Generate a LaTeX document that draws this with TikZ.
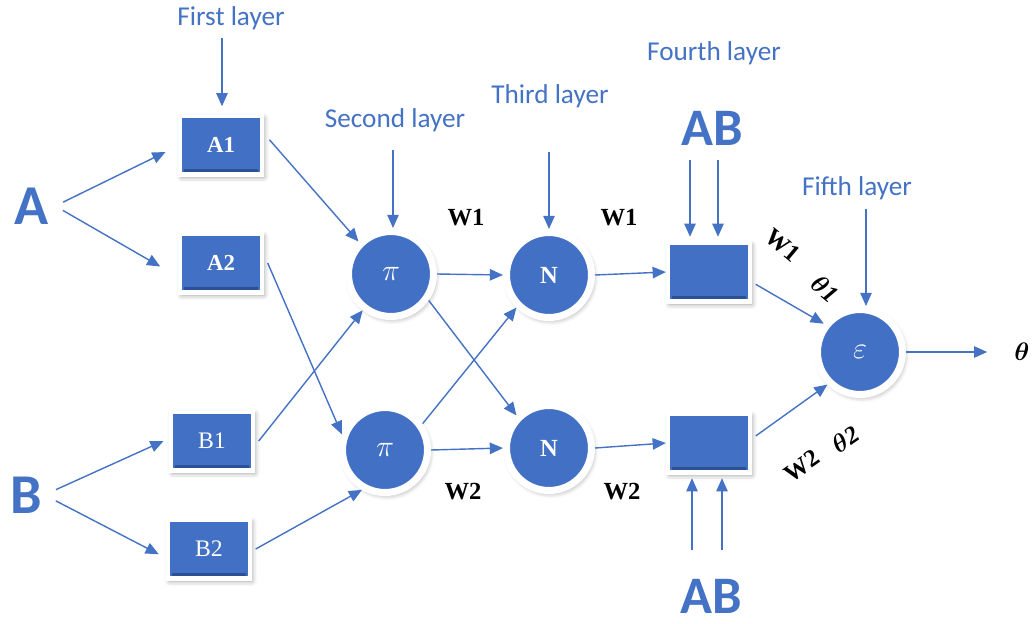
\documentclass[tikz,border=0pt]{standalone}
\usepackage{amsmath}
\usepackage{fontspec}
\setmainfont{Liberation Serif}
\newfontfamily\labelfont{Carlito}
\usetikzlibrary{arrows.meta,shadows.blur}
\definecolor{nodeblue}{RGB}{66,112,196}
\definecolor{edgeblue}{RGB}{44,80,150}
\definecolor{linkblue}{RGB}{68,114,196}
\begin{document}
\begin{tikzpicture}[x=0.02cm,y=-0.02cm,
  link/.style={draw=linkblue,line width=0.8pt,-{Triangle[length=7.5pt,width=6.5pt]}},
  shade/.style={blur shadow={shadow xshift=1pt,shadow yshift=-1.5pt,
    shadow blur radius=3pt,shadow opacity=40}},
  unit/.style={rectangle,fill=nodeblue,draw=white,line width=2.5pt,
    minimum width=1.64cm,minimum height=1.18cm,shade,text=white,
    font=\fontsize{13.5}{15}\selectfont,
    path picture={\draw[edgeblue,line width=1.4pt]
      ([shift={(2.2pt,2.2pt)}]path picture bounding box.south west) --
      ([shift={(-2.2pt,2.2pt)}]path picture bounding box.south east);}},
  neuron/.style={circle,fill=nodeblue,draw=white,line width=4pt,
    minimum size=1.7cm,shade,text=white,font=\fontsize{17}{19}\selectfont},
  layer/.style={font=\labelfont\fontsize{15.5}{17}\selectfont,text=linkblue},
  big/.style={font=\labelfont\bfseries\fontsize{32}{34}\selectfont,text=linkblue},
  wlab/.style={font=\bfseries\fontsize{14}{16}\selectfont},
  tlab/.style={font=\bfseries\itshape\fontsize{14}{16}\selectfont}]
\useasboundingbox (0,0) rectangle (1036,623);

% inputs
\node[big] (A) at (32,206) {A};
\node[big] (B) at (26,495) {B};

% first layer: membership units
\node[unit,font=\bfseries\fontsize{13}{15}\selectfont] (A1) at (221,145) {A1};
\node[unit,font=\bfseries\fontsize{13}{15}\selectfont] (A2) at (221,263) {A2};
\node[unit] (B1) at (212,441) {B1};
\node[unit] (B2) at (209,549) {B2};

% second and third layers
\node[neuron] (P1) at (391,274) {$\pi$};
\node[neuron] (P2) at (385,450) {$\pi$};
\node[neuron,font=\bfseries\fontsize{14}{16}\selectfont] (N1) at (549,275) {N};
\node[neuron,font=\bfseries\fontsize{14}{16}\selectfont] (N2) at (549,448) {N};

% fourth layer
\node[unit] (F1) at (709,272) {};
\node[unit] (F2) at (709,443) {};

% fifth layer and output
\node[neuron] (E) at (860,352) {$\varepsilon$};
\node[font=\fontsize{15}{17}\selectfont] (T) at (1022,352) {$\boldsymbol{\theta}$};

% layer captions
\node[layer] (L1) at (231,18) {First layer};
\node[layer] (L2) at (395,120) {Second layer};
\node[layer] (L3) at (550,96) {Third layer};
\node[layer] (L4) at (714,53) {Fourth layer};
\node[layer] (L5) at (857,188) {Fifth layer};
\node[big,font=\labelfont\bfseries\fontsize{30}{32}\selectfont] (AB1) at (712,128) {AB};
\node[big,font=\labelfont\bfseries\fontsize{30}{32}\selectfont] (AB2) at (711,596) {AB};

% weights
\node[wlab] (w11) at (466,218) {W1};
\node[wlab] (w12) at (619,218) {W1};
\node[wlab] (w21) at (463,492) {W2};
\node[wlab] (w22) at (622,492) {W2};
\node[wlab,inner sep=0pt] (w13) at (783,245) {\rotatebox{-40}{W1}};
\node[tlab,inner sep=0pt] (t1) at (825,289) {\rotatebox{-40}{$\boldsymbol{\theta}$1}};
\node[wlab,inner sep=0pt] (w23) at (802,466) {\rotatebox{35}{W2}};
\node[tlab,inner sep=0pt] (t2) at (845,439) {\rotatebox{35}{$\boldsymbol{\theta}$2}};

% caption arrows
\draw[link] (L1.south) ++(-9,2) coordinate (c1) -- ([yshift=4pt]A1.north -| c1);
\draw[link] (L2.south) ++(-2,12) coordinate (c2) -- (P1.north -| c2);
\draw[link] (L3.south) ++(-1,38) coordinate (c3) -- (N1.north -| c3);
\draw[link] (L5.south) ++(9,3) coordinate (c5) -- (E.north -| c5);

% AB feeding the fourth layer
\coordinate (u1) at (690,160);
\coordinate (u2) at (718,160);
\coordinate (d1) at (692,550);
\coordinate (d2) at (722,550);
\draw[link] (u1) -- ([yshift=2pt]F1.north -| u1);
\draw[link] (u2) -- ([yshift=2pt]F1.north -| u2);
\draw[link] (d1) -- ([yshift=-2pt]F2.south -| d1);
\draw[link] (d2) -- ([yshift=-2pt]F2.south -| d2);

% inputs to first layer
\draw[link,shorten <=5pt] (A.east) -- ([shift={(-7pt,-4pt)}]A1.west);
\draw[link,shorten <=5pt] (A.east) -- ([shift={(-10pt,-2pt)}]A2.west);
\draw[link,shorten <=5pt] ([yshift=1pt]B.east) -- ([shift={(-3pt,0pt)}]B1.west);
\draw[link,shorten <=5pt] ([yshift=-1pt]B.east) -- ([shift={(-4pt,-3pt)}]B2.west);

% first to second layer
\draw[link] ([shift={(3pt,3pt)}]A1.east) -- (P1.135);
\draw[link] ([shift={(2pt,0pt)}]A2.east) -- (P2.160);
\draw[link] ([shift={(2pt,0pt)}]B1.east) -- (P1.232);
\draw[link] ([shift={(2pt,0pt)}]B2.east) -- (P2.240);

% second to third layer
\draw[link] (P1.east) -- (N1.west);
\draw[link] (P1.-35) -- (N2.135);
\draw[link] (P2.35) -- (N1.225);
\draw[link] (P2.east) -- (N2.west);

% third to fourth layer
\draw[link] (N1.east) -- (F1.west);
\draw[link] (N2.east) -- (F2.west);

% fourth to fifth layer and output
\draw[link] ([shift={(2pt,-7pt)}]F1.east) -- (E.142);
\draw[link] ([shift={(2pt,4pt)}]F2.east) -- (E.225);
\draw[link] (E.east) -- ([xshift=-12pt]T.west);
\end{tikzpicture}
\end{document}
